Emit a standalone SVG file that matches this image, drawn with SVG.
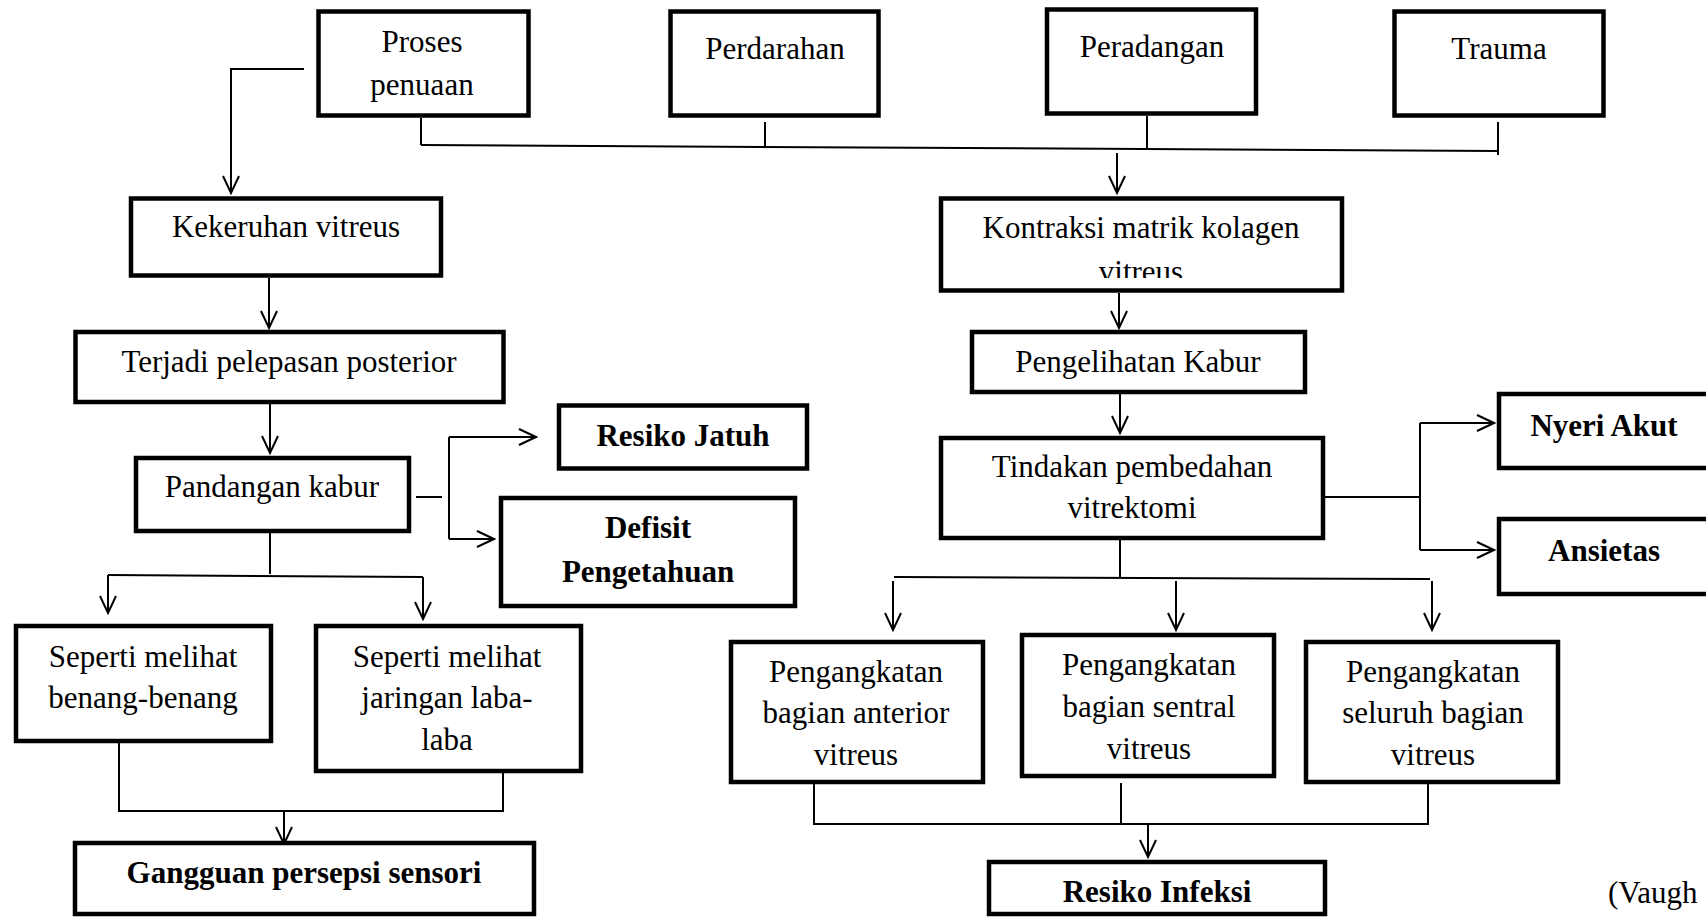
<svg xmlns="http://www.w3.org/2000/svg" width="1706" height="917" viewBox="0 0 1706 917">
<style>
.box{fill:#fff;stroke:#000;stroke-width:4.5}
.t{font-family:"Liberation Serif","Times New Roman",serif;font-size:31px;fill:#000;text-anchor:middle}
.b{font-weight:bold}
.c{fill:none;stroke:#000;stroke-width:2}
.a{fill:none;stroke:#000;stroke-width:2;marker-end:url(#arr)}
</style>
<defs>
<marker id="arr" markerUnits="userSpaceOnUse" viewBox="-20 -10 22 20" refX="0" refY="0" markerWidth="22" markerHeight="20" orient="auto">
<polyline points="-17,-8 0,0 -17,8" fill="none" stroke="#000" stroke-width="2"/>
</marker>
<clipPath id="clipK"><rect x="939" y="196" width="405" height="82"/></clipPath>
</defs>
<rect width="1706" height="917" fill="#fff"/>

<g id="connectors">
<polyline class="a" points="304,69 231,69 231,193"/>
<line class="c" x1="421" y1="118" x2="421" y2="145"/>
<line class="c" x1="765" y1="122" x2="765" y2="146"/>
<line class="c" x1="1147" y1="116" x2="1147" y2="148"/>
<line class="c" x1="1498" y1="122" x2="1498" y2="155"/>
<line class="c" x1="421" y1="145" x2="1498" y2="151"/>
<line class="a" x1="1117" y1="153" x2="1117" y2="193"/>
<line class="a" x1="269" y1="278" x2="269" y2="328"/>
<line class="a" x1="270" y1="403" x2="270" y2="453"/>
<line class="a" x1="1119" y1="293" x2="1119" y2="328"/>
<line class="a" x1="1120" y1="394" x2="1120" y2="433"/>
<line class="c" x1="416" y1="497" x2="442" y2="497"/>
<line class="c" x1="449" y1="437" x2="449" y2="539"/>
<line class="a" x1="449" y1="437" x2="536" y2="437"/>
<line class="a" x1="449" y1="539" x2="494" y2="539"/>
<line class="c" x1="270" y1="533" x2="270" y2="574"/>
<line class="c" x1="108" y1="575" x2="423" y2="577"/>
<line class="a" x1="108" y1="575" x2="108" y2="613"/>
<line class="a" x1="423" y1="577" x2="423" y2="619"/>
<polyline class="c" points="119,743 119,811 503,811 503,773"/>
<line class="a" x1="284" y1="811" x2="284" y2="844"/>
<line class="c" x1="1324" y1="497" x2="1420" y2="497"/>
<line class="c" x1="1420" y1="423" x2="1420" y2="550"/>
<line class="a" x1="1420" y1="423" x2="1494" y2="423"/>
<line class="a" x1="1420" y1="550" x2="1494" y2="550"/>
<line class="c" x1="1120" y1="540" x2="1120" y2="577"/>
<line class="c" x1="894" y1="577" x2="1430" y2="579"/>
<line class="a" x1="893" y1="581" x2="893" y2="630"/>
<line class="a" x1="1176" y1="581" x2="1176" y2="630"/>
<line class="a" x1="1432" y1="581" x2="1432" y2="630"/>
<polyline class="c" points="814,784 814,824 1428,824 1428,784"/>
<line class="c" x1="1121" y1="783" x2="1121" y2="824"/>
<line class="a" x1="1148" y1="824" x2="1148" y2="857"/>
</g>

<g id="n-proses"><rect class="box" x="318.5" y="11.5" width="210" height="104"/>
<text class="t" x="422" y="52">Proses</text><text class="t" x="422" y="95">penuaan</text></g>
<g id="n-perdarahan"><rect class="box" x="670.5" y="11.5" width="208" height="104"/>
<text class="t" x="775" y="59">Perdarahan</text></g>
<g id="n-peradangan"><rect class="box" x="1047" y="9.5" width="209" height="104"/>
<text class="t" x="1152" y="57">Peradangan</text></g>
<g id="n-trauma"><rect class="box" x="1394.5" y="11.5" width="209" height="104"/>
<text class="t" x="1499" y="59">Trauma</text></g>

<g id="n-kekeruhan"><rect class="box" x="131" y="198.5" width="310" height="77"/>
<text class="t" x="286" y="237">Kekeruhan vitreus</text></g>
<g id="n-kontraksi"><rect class="box" x="941" y="198.5" width="401" height="92"/>
<text class="t" x="1141" y="238">Kontraksi matrik kolagen</text>
<text class="t" x="1141" y="282" clip-path="url(#clipK)">vitreus</text></g>

<g id="n-terjadi"><rect class="box" x="75.5" y="332" width="428" height="70"/>
<text class="t" x="289" y="372">Terjadi pelepasan posterior</text></g>
<g id="n-pengelihatan"><rect class="box" x="972" y="332" width="333" height="60"/>
<text class="t" x="1138" y="372">Pengelihatan Kabur</text></g>

<g id="n-pandangan"><rect class="box" x="136" y="458" width="273" height="73"/>
<text class="t" x="272" y="497">Pandangan kabur</text></g>
<g id="n-resiko-jatuh"><rect class="box" x="559" y="405.5" width="248" height="63"/>
<text class="t b" x="683" y="446">Resiko Jatuh</text></g>
<g id="n-defisit"><rect class="box" x="501" y="498" width="294" height="108"/>
<text class="t b" x="648" y="538">Defisit</text><text class="t b" x="648" y="582">Pengetahuan</text></g>

<g id="n-tindakan"><rect class="box" x="941" y="438" width="382" height="100"/>
<text class="t" x="1132" y="477">Tindakan pembedahan</text><text class="t" x="1132" y="518">vitrektomi</text></g>
<g id="n-nyeri"><rect class="box" x="1499" y="394" width="220" height="74"/>
<text class="t b" x="1604" y="436">Nyeri Akut</text></g>
<g id="n-ansietas"><rect class="box" x="1499" y="519" width="220" height="75"/>
<text class="t b" x="1604" y="561">Ansietas</text></g>

<g id="n-benang"><rect class="box" x="16" y="626" width="255" height="115"/>
<text class="t" x="143" y="667">Seperti melihat</text><text class="t" x="143" y="708">benang-benang</text></g>
<g id="n-laba"><rect class="box" x="316" y="626" width="265" height="145"/>
<text class="t" x="447" y="667">Seperti melihat</text><text class="t" x="447" y="708">jaringan laba-</text><text class="t" x="447" y="750">laba</text></g>
<g id="n-gangguan"><rect class="box" x="75" y="843" width="459" height="71"/>
<text class="t b" x="304" y="883">Gangguan persepsi sensori</text></g>

<g id="n-anterior"><rect class="box" x="731" y="642" width="252" height="140"/>
<text class="t" x="856" y="682">Pengangkatan</text><text class="t" x="856" y="723">bagian anterior</text><text class="t" x="856" y="765">vitreus</text></g>
<g id="n-sentral"><rect class="box" x="1022" y="635" width="252" height="141"/>
<text class="t" x="1149" y="675">Pengangkatan</text><text class="t" x="1149" y="717">bagian sentral</text><text class="t" x="1149" y="759">vitreus</text></g>
<g id="n-seluruh"><rect class="box" x="1306" y="642" width="252" height="140"/>
<text class="t" x="1433" y="682">Pengangkatan</text><text class="t" x="1433" y="723">seluruh bagian</text><text class="t" x="1433" y="765">vitreus</text></g>
<g id="n-infeksi"><rect class="box" x="989" y="862" width="336" height="52"/>
<text class="t b" x="1157" y="902">Resiko Infeksi</text></g>

<text class="t" x="1608" y="903" style="text-anchor:start">(Vaugh</text>
</svg>
